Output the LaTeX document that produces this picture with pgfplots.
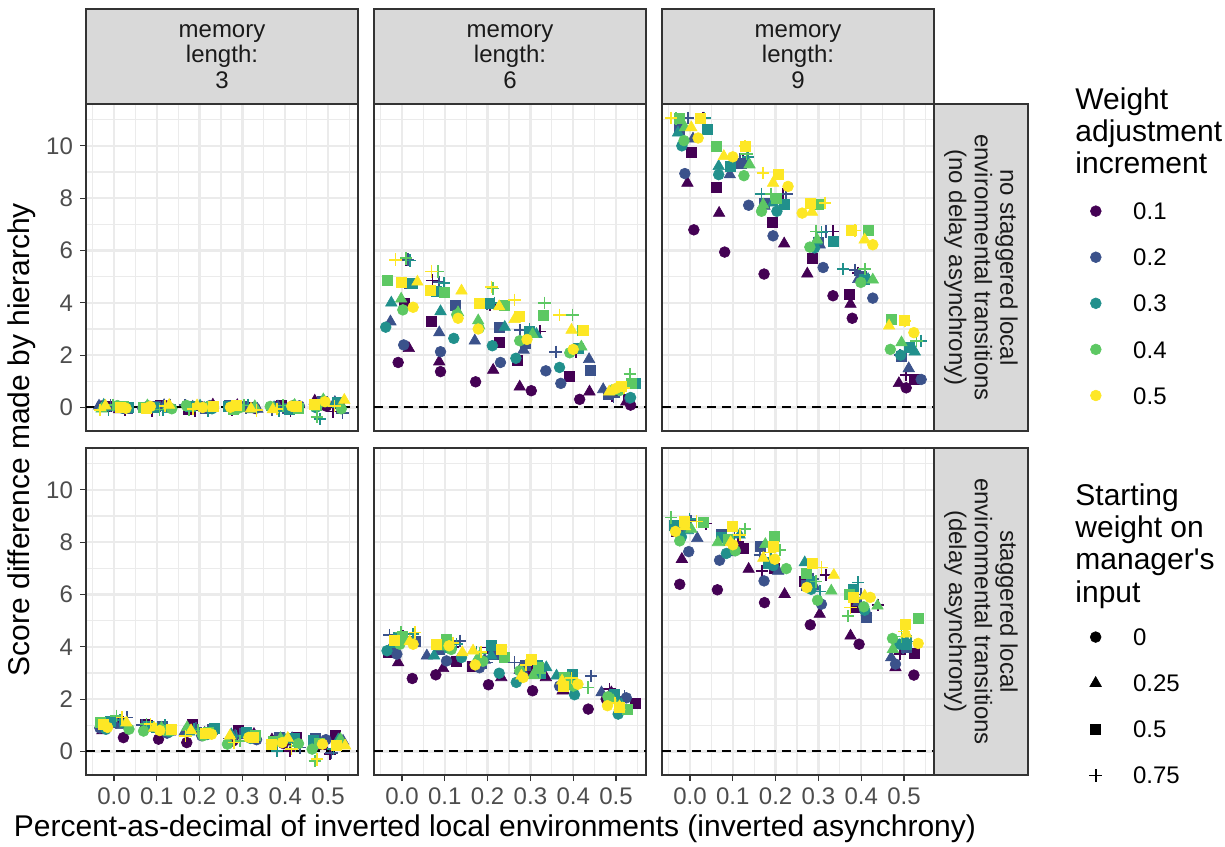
\documentclass[border=0pt]{standalone}
\usepackage{pgfplots}
\pgfplotsset{compat=1.18}
\usepackage{pgfplotstable}
\usepackage{fontspec}
\setmainfont{Liberation Sans}
\definecolor{c1}{HTML}{440154}
\definecolor{c2}{HTML}{3B528B}
\definecolor{c3}{HTML}{21908C}
\definecolor{c4}{HTML}{5DC863}
\definecolor{c5}{HTML}{FDE725}
\definecolor{grey92}{HTML}{EBEBEB}
\definecolor{grey85}{HTML}{D9D9D9}
\definecolor{grey20}{HTML}{333333}
\definecolor{grey30}{HTML}{4D4D4D}
\definecolor{grey10}{HTML}{1A1A1A}

\tikzset{
  mk1/.style={mark=*,mark size=2.7pt,line width=0.3pt},
  mk2/.style={mark=triangle*,mark size=3.3pt,line width=0.3pt},
  mk3/.style={mark=square*,mark size=2.5pt,line width=0.3pt},
  mk4/.style={mark=+,mark size=3.1pt,line width=0.85pt,mark options={line width=0.85pt}},
}
\pgfplotsset{
  pts/.style={scatter, only marks, scatter src=explicit symbolic,
    scatter/classes={
      a1={mk1,draw=c1,fill=c1}, a2={mk2,draw=c1,fill=c1}, a3={mk3,draw=c1,fill=c1}, a4={mk4,draw=c1},
      b1={mk1,draw=c2,fill=c2}, b2={mk2,draw=c2,fill=c2}, b3={mk3,draw=c2,fill=c2}, b4={mk4,draw=c2},
      c1={mk1,draw=c3,fill=c3}, c2={mk2,draw=c3,fill=c3}, c3={mk3,draw=c3,fill=c3}, c4={mk4,draw=c3},
      d1={mk1,draw=c4,fill=c4}, d2={mk2,draw=c4,fill=c4}, d3={mk3,draw=c4,fill=c4}, d4={mk4,draw=c4},
      e1={mk1,draw=c5,fill=c5}, e2={mk2,draw=c5,fill=c5}, e3={mk3,draw=c5,fill=c5}, e4={mk4,draw=c5}}},
  panel/.style={
    scale only axis, width=136pt, height=163.5pt, anchor=north west,
    xmin=-0.0654, xmax=0.570, ymin=-0.9, ymax=11.6,
    xtick={0,0.1,0.2,0.3,0.4,0.5}, ytick={0,2,4,6,8,10},
    minor xtick={-0.05,0.05,0.15,0.25,0.35,0.45,0.55},
    minor ytick={1,3,5,7,9,11},
    grid=both,
    major grid style={grey92, line width=1.2pt},
    minor grid style={grey92, line width=0.6pt},
    axis line style={grey20, line width=0.7pt},
    tick style={grey20, line width=0.55pt},
    major tick length=3pt, minor tick length=0pt,
    tick align=outside, xtick pos=bottom, ytick pos=left,
    tick label style={text=grey30, font=\fontsize{12}{14}\selectfont},
    /pgf/number format/assume math mode=true,
    xticklabel style={/pgf/number format/.cd, fixed, fixed zerofill, precision=1, assume math mode=true},
  },
  notop/.style={xticklabels={}, xtick style={draw=none}},
  noleft/.style={yticklabels={}, ytick style={draw=none}},
  zero/.style={black, line width=1pt, dash pattern=on 4.5pt off 3pt, forget plot},
}

% top-left: memory 3, no staggered
\pgfplotstableread[row sep=\\]{
x y c\\
-0.030 0.05 a1\\ 0.012 -0.08 a2\\ -0.018 0.03 a3\\ 0.025 -0.10 a4\\
0.005 0.02 b1\\ -0.035 0.06 b2\\ 0.030 -0.04 b3\\ -0.008 0.08 b4\\
0.018 -0.02 c1\\ -0.024 0.09 c2\\ 0.034 0.01 c3\\ -0.013 -0.09 c4\\
0.008 0.07 d1\\ -0.029 -0.05 d2\\ 0.021 0.04 d3\\ -0.003 0.10 d4\\
0.028 -0.03 e1\\ -0.020 0.06 e2\\ 0.014 0.00 e3\\ -0.033 -0.10 e4\\
0.122 0.06 a1\\ 0.073 -0.04 a2\\ 0.109 0.09 a3\\ 0.088 -0.12 a4\\
0.067 -0.02 b1\\ 0.117 0.08 b2\\ 0.096 0.03 b3\\ 0.131 0.10 b4\\
0.081 0.05 c1\\ 0.126 -0.07 c2\\ 0.091 0.02 c3\\ 0.114 -0.10 c4\\
0.135 -0.05 d1\\ 0.078 0.07 d2\\ 0.069 0.00 d3\\ 0.106 -0.08 d4\\
0.085 0.04 e1\\ 0.129 0.09 e2\\ 0.075 -0.03 e3\\ 0.119 0.06 e4\\
0.204 0.03 a1\\ 0.231 0.10 a2\\ 0.174 -0.06 a3\\ 0.189 -0.11 a4\\
0.224 0.07 b1\\ 0.184 0.02 b2\\ 0.213 -0.03 b3\\ 0.166 0.09 b4\\
0.229 -0.05 c1\\ 0.201 0.06 c2\\ 0.179 0.04 c3\\ 0.219 -0.12 c4\\
0.169 0.08 d1\\ 0.211 -0.02 d2\\ 0.227 0.05 d3\\ 0.176 -0.09 d4\\
0.207 0.00 e1\\ 0.194 0.07 e2\\ 0.233 0.03 e3\\ 0.185 -0.06 e4\\
0.330 -0.04 a1\\ 0.288 0.08 a2\\ 0.318 0.02 a3\\ 0.275 -0.10 a4\\
0.295 0.05 b1\\ 0.335 -0.06 b2\\ 0.270 0.09 b3\\ 0.308 0.00 b4\\
0.282 0.03 c1\\ 0.324 -0.08 c2\\ 0.266 0.06 c3\\ 0.313 0.10 c4\\
0.292 -0.02 d1\\ 0.329 0.04 d2\\ 0.279 -0.07 d3\\ 0.303 0.08 d4\\
0.272 0.01 e1\\ 0.320 -0.05 e2\\ 0.286 0.07 e3\\ 0.333 -0.11 e4\\
0.378 0.02 a1\\ 0.427 -0.07 a2\\ 0.391 0.10 a3\\ 0.412 -0.12 a4\\
0.433 0.06 b1\\ 0.383 0.03 b2\\ 0.404 -0.04 b3\\ 0.369 -0.10 b4\\
0.419 0.08 c1\\ 0.374 0.00 c2\\ 0.409 -0.06 c3\\ 0.386 -0.13 c4\\
0.365 0.04 d1\\ 0.422 0.09 d2\\ 0.431 -0.02 d3\\ 0.394 0.07 d4\\
0.415 0.05 e1\\ 0.371 -0.08 e2\\ 0.425 0.03 e3\\ 0.381 -0.05 e4\\
0.496 0.05 a1\\ 0.469 0.25 a2\\ 0.526 0.15 a3\\ 0.511 -0.15 a4\\
0.476 0.10 b1\\ 0.516 0.20 b2\\ 0.487 0.22 b3\\ 0.534 -0.20 b4\\
0.471 0.00 c1\\ 0.499 0.15 c2\\ 0.521 0.18 c3\\ 0.481 -0.45 c4\\
0.531 -0.05 d1\\ 0.489 0.30 d2\\ 0.473 0.10 d3\\ 0.474 -0.36 d4\\
0.493 0.22 e1\\ 0.538 0.28 e2\\ 0.467 0.12 e3\\ 0.515 0.05 e4\\
}\PA

% top-middle: memory 6, no staggered
\pgfplotstableread[row sep=\\]{
x y c\\
-0.009 1.72 a1\\ 0.016 2.26 a2\\ 0.006 4.00 a3\\ 0.010 5.65 a4\\
0.004 2.39 b1\\ -0.027 3.28 b2\\ 0.018 4.75 b3\\ 0.014 5.65 b4\\
-0.038 3.07 c1\\ -0.025 4.00 c2\\ 0.024 4.75 c3\\ 0.018 5.62 c4\\
0.002 3.73 d1\\ -0.002 4.15 d2\\ -0.035 4.85 d3\\ 0.010 5.70 d4\\
0.026 3.83 e1\\ 0.036 4.80 e2\\ -0.002 4.80 e3\\ -0.015 5.65 e4\\
0.090 1.37 a1\\ 0.087 1.75 a2\\ 0.069 3.28 a3\\ 0.071 4.85 a4\\
0.090 2.13 b1\\ 0.087 2.86 b2\\ 0.125 3.92 b3\\ 0.087 4.80 b4\\
0.121 2.64 c1\\ 0.090 3.67 c2\\ 0.080 4.45 c3\\ 0.098 4.75 c4\\
0.128 3.55 d1\\ 0.131 3.63 d2\\ 0.098 4.39 d3\\ 0.084 5.20 d4\\
0.131 3.41 e1\\ 0.139 4.46 e2\\ 0.066 4.46 e3\\ 0.069 5.20 e4\\
0.172 0.98 a1\\ 0.213 1.43 a2\\ 0.228 2.49 a3\\ 0.205 3.92 a4\\
0.230 1.72 b1\\ 0.170 2.55 b2\\ 0.228 3.07 b3\\ 0.199 3.95 b4\\
0.211 2.36 c1\\ 0.240 3.07 c2\\ 0.201 3.98 c3\\ 0.216 4.00 c4\\
0.180 3.03 d1\\ 0.178 3.32 d2\\ 0.240 3.92 d3\\ 0.213 4.55 d4\\
0.178 3.00 e1\\ 0.227 3.86 e2\\ 0.181 3.98 e3\\ 0.209 4.60 e4\\
0.302 0.64 a1\\ 0.275 0.79 a2\\ 0.269 1.81 a3\\ 0.322 2.90 a4\\
0.336 1.40 b1\\ 0.284 2.20 b2\\ 0.287 2.45 b3\\ 0.275 2.96 b4\\
0.266 1.88 c1\\ 0.314 2.80 c2\\ 0.298 2.90 c3\\ 0.298 2.98 c4\\
0.275 2.55 d1\\ 0.305 2.80 d2\\ 0.331 3.51 d3\\ 0.333 4.00 d4\\
0.292 2.60 e1\\ 0.263 3.37 e2\\ 0.273 3.47 e3\\ 0.263 4.11 e4\\
0.415 0.31 a1\\ 0.438 0.60 a2\\ 0.390 1.21 a3\\ 0.407 2.13 a4\\
0.371 0.92 b1\\ 0.437 1.84 b2\\ 0.440 1.43 b3\\ 0.359 2.13 b4\\
0.368 1.53 c1\\ 0.411 2.20 c2\\ 0.411 2.25 c3\\ 0.400 2.20 c4\\
0.392 2.09 d1\\ 0.419 2.32 d2\\ 0.421 2.96 d3\\ 0.398 3.54 d4\\
0.400 2.22 e1\\ 0.396 2.96 e2\\ 0.424 2.96 e3\\ 0.368 3.54 e4\\
0.534 0.09 a1\\ 0.524 0.22 a2\\ 0.528 0.30 a3\\ 0.491 0.45 a4\\
0.532 0.35 b1\\ 0.470 0.69 b2\\ 0.481 0.50 b3\\ 0.494 0.41 b4\\
0.534 0.38 c1\\ 0.497 0.60 c2\\ 0.544 0.92 c3\\ 0.509 0.70 c4\\
0.509 0.65 d1\\ 0.489 0.62 d2\\ 0.536 0.92 d3\\ 0.532 1.28 d4\\
0.499 0.72 e1\\ 0.484 0.60 e2\\ 0.512 0.80 e3\\ 0.518 0.75 e4\\
}\PB

% top-right: memory 9, no staggered
\pgfplotstableread[row sep=\\]{
x y c\\
0.009 6.79 a1\\ -0.006 8.58 a2\\ 0.003 9.77 a3\\ 0.030 11.07 a4\\
-0.012 8.94 b1\\ 0.007 10.27 b2\\ -0.024 10.65 b3\\ -0.005 11.07 b4\\
-0.019 10.00 c1\\ -0.028 10.50 c2\\ 0.040 10.65 c3\\ 0.034 11.07 c4\\
-0.014 10.20 d1\\ -0.012 10.70 d2\\ -0.024 11.07 d3\\ -0.032 11.05 d4\\
0.019 10.30 e1\\ 0.003 10.70 e2\\ 0.025 11.07 e3\\ -0.044 11.07 e4\\
0.081 5.94 a1\\ 0.068 7.43 a2\\ 0.061 8.42 a3\\ 0.124 9.45 a4\\
0.137 7.73 b1\\ 0.093 8.90 b2\\ 0.120 9.35 b3\\ 0.116 9.50 b4\\
0.067 8.90 c1\\ 0.067 9.22 c2\\ 0.093 9.20 c3\\ 0.136 9.58 c4\\
0.126 8.86 d1\\ 0.139 9.28 d2\\ 0.061 9.99 d3\\ 0.132 9.70 d4\\
0.100 9.58 e1\\ 0.079 9.60 e2\\ 0.129 9.99 e3\\ 0.129 9.99 e4\\
0.173 5.10 a1\\ 0.220 6.26 a2\\ 0.192 7.09 a3\\ 0.217 8.14 a4\\
0.194 6.56 b1\\ 0.174 7.70 b2\\ 0.173 7.82 b3\\ 0.225 8.17 b4\\
0.203 7.50 c1\\ 0.194 7.82 c2\\ 0.220 7.75 c3\\ 0.167 8.17 c4\\
0.167 7.50 d1\\ 0.171 7.75 d2\\ 0.202 8.00 d3\\ 0.190 8.17 d4\\
0.229 8.45 e1\\ 0.194 8.58 e2\\ 0.207 8.90 e3\\ 0.171 8.97 e4\\
0.334 4.27 a1\\ 0.274 5.11 a2\\ 0.286 5.71 a3\\ 0.334 6.73 a4\\
0.311 5.35 b1\\ 0.303 6.22 b2\\ 0.299 6.30 b3\\ 0.318 6.73 b4\\
0.291 6.10 c1\\ 0.295 6.35 c2\\ 0.334 6.35 c3\\ 0.307 6.70 c4\\
0.280 6.13 d1\\ 0.297 6.41 d2\\ 0.299 7.75 d3\\ 0.295 6.73 d4\\
0.262 7.43 e1\\ 0.285 7.47 e2\\ 0.280 7.82 e3\\ 0.315 7.82 e4\\
0.379 3.41 a1\\ 0.375 3.95 a2\\ 0.371 4.34 a3\\ 0.393 5.15 a4\\
0.427 4.18 b1\\ 0.393 4.90 b2\\ 0.400 5.00 b3\\ 0.385 5.26 b4\\
0.404 4.85 c1\\ 0.416 4.90 c2\\ 0.408 4.88 c3\\ 0.358 5.29 c4\\
0.399 4.78 d1\\ 0.427 4.88 d2\\ 0.416 6.79 d3\\ 0.408 5.29 d4\\
0.427 6.22 e1\\ 0.408 6.41 e2\\ 0.377 6.77 e3\\ 0.386 6.77 e4\\
0.505 0.75 a1\\ 0.488 0.92 a2\\ 0.525 1.07 a3\\ 0.505 1.24 a4\\
0.540 1.07 b1\\ 0.511 1.49 b2\\ 0.494 1.94 b3\\ 0.490 2.00 b4\\
0.492 2.00 c1\\ 0.525 2.13 c2\\ 0.513 2.30 c3\\ 0.540 2.55 c4\\
0.468 2.22 d1\\ 0.494 2.48 d2\\ 0.470 3.37 d3\\ 0.529 2.55 d4\\
0.523 2.86 e1\\ 0.465 3.12 e2\\ 0.500 3.35 e3\\ 0.502 3.30 e4\\
}\PC

% bottom-left: memory 3, staggered
\pgfplotstableread[row sep=\\]{
x y c\\
0.022 0.53 a1\\ -0.027 0.80 a2\\ 0.009 1.15 a3\\ -0.012 1.10 a4\\
-0.033 0.90 b1\\ 0.017 1.00 b2\\ -0.004 1.10 b3\\ 0.031 1.30 b4\\
-0.019 0.85 c1\\ 0.026 1.05 c2\\ -0.009 1.15 c3\\ 0.014 1.20 c4\\
0.035 0.85 d1\\ -0.022 1.00 d2\\ -0.031 1.10 d3\\ 0.006 1.36 d4\\
-0.015 0.92 e1\\ 0.029 1.10 e2\\ -0.025 1.05 e3\\ 0.019 1.30 e4\\
0.104 0.47 a1\\ 0.131 0.75 a2\\ 0.074 1.04 a3\\ 0.089 0.95 a4\\
0.124 0.70 b1\\ 0.084 0.90 b2\\ 0.113 0.95 b3\\ 0.066 1.00 b4\\
0.129 0.75 c1\\ 0.101 0.85 c2\\ 0.079 0.95 c3\\ 0.119 1.00 c4\\
0.069 0.78 d1\\ 0.111 0.90 d2\\ 0.127 0.80 d3\\ 0.076 1.05 d4\\
0.107 0.80 e1\\ 0.094 0.90 e2\\ 0.133 0.85 e3\\ 0.085 1.05 e4\\
0.170 0.34 a1\\ 0.212 0.70 a2\\ 0.182 1.04 a3\\ 0.225 0.80 a4\\
0.205 0.60 b1\\ 0.165 0.75 b2\\ 0.230 0.85 b3\\ 0.192 0.90 b4\\
0.218 0.65 c1\\ 0.176 0.75 c2\\ 0.234 0.90 c3\\ 0.187 0.85 c4\\
0.208 0.60 d1\\ 0.171 0.92 d2\\ 0.221 0.75 d3\\ 0.197 0.80 d4\\
0.228 0.66 e1\\ 0.180 0.80 e2\\ 0.214 0.69 e3\\ 0.167 0.60 e4\\
0.278 0.40 a1\\ 0.327 0.66 a2\\ 0.291 0.82 a3\\ 0.312 0.55 a4\\
0.333 0.45 b1\\ 0.283 0.60 b2\\ 0.304 0.70 b3\\ 0.269 0.50 b4\\
0.319 0.50 c1\\ 0.274 0.65 c2\\ 0.309 0.75 c3\\ 0.286 0.60 c4\\
0.265 0.28 d1\\ 0.322 0.55 d2\\ 0.331 0.60 d3\\ 0.294 0.40 d4\\
0.315 0.54 e1\\ 0.271 0.60 e2\\ 0.325 0.54 e3\\ 0.281 0.34 e4\\
0.396 0.30 a1\\ 0.369 0.45 a2\\ 0.426 0.54 a3\\ 0.411 0.03 a4\\
0.376 0.35 b1\\ 0.416 0.50 b2\\ 0.387 0.55 b3\\ 0.434 0.15 b4\\
0.371 0.30 c1\\ 0.399 0.45 c2\\ 0.421 0.50 c3\\ 0.381 0.03 c4\\
0.431 0.30 d1\\ 0.389 0.50 d2\\ 0.373 0.40 d3\\ 0.424 0.20 d4\\
0.393 0.34 e1\\ 0.406 0.51 e2\\ 0.367 0.28 e3\\ 0.415 0.10 e4\\
0.530 0.35 a1\\ 0.488 0.20 a2\\ 0.518 0.60 a3\\ 0.505 -0.10 a4\\
0.495 0.45 b1\\ 0.535 0.40 b2\\ 0.470 0.50 b3\\ 0.508 -0.05 b4\\
0.482 0.30 c1\\ 0.524 0.45 c2\\ 0.466 0.41 c3\\ 0.513 0.10 c4\\
0.463 0.09 d1\\ 0.529 0.47 d2\\ 0.479 0.30 d3\\ 0.469 -0.36 d4\\
0.487 0.28 e1\\ 0.540 0.22 e2\\ 0.520 0.22 e3\\ 0.474 -0.30 e4\\
}\PD

% bottom-middle: memory 6, staggered
\pgfplotstableread[row sep=\\]{
x y c\\
0.024 2.79 a1\\ -0.009 3.40 a2\\ -0.033 3.78 a3\\ 0.002 4.40 a4\\
-0.012 3.72 b1\\ -0.025 4.00 b2\\ 0.030 4.23 b3\\ -0.029 4.45 b4\\
-0.035 3.85 c1\\ -0.021 4.10 c2\\ -0.009 4.36 c3\\ 0.026 4.50 c4\\
-0.005 4.10 d1\\ 0.006 4.30 d2\\ 0.001 4.40 d3\\ -0.002 4.55 d4\\
0.026 4.10 e1\\ 0.018 4.20 e2\\ -0.019 4.25 e3\\ 0.030 4.55 e4\\
0.079 2.93 a1\\ 0.096 3.18 a2\\ 0.127 3.46 a3\\ 0.119 4.00 a4\\
0.104 3.46 b1\\ 0.058 3.66 b2\\ 0.088 3.90 b3\\ 0.135 4.23 b4\\
0.139 3.59 c1\\ 0.075 3.66 c2\\ 0.111 4.00 c3\\ 0.127 4.10 c4\\
0.115 3.90 d1\\ 0.092 4.00 d2\\ 0.104 4.29 d3\\ 0.107 4.20 d4\\
0.110 4.04 e1\\ 0.141 3.78 e2\\ 0.079 4.10 e3\\ 0.119 4.15 e4\\
0.202 2.55 a1\\ 0.232 2.83 a2\\ 0.164 3.27 a3\\ 0.201 3.97 a4\\
0.181 3.20 b1\\ 0.193 3.50 b2\\ 0.213 3.70 b3\\ 0.197 3.40 b4\\
0.227 2.99 c1\\ 0.209 3.66 c2\\ 0.209 4.04 c3\\ 0.174 3.80 c4\\
0.189 3.45 d1\\ 0.178 3.60 d2\\ 0.240 3.59 d3\\ 0.183 3.75 d4\\
0.171 3.31 e1\\ 0.166 3.85 e2\\ 0.232 3.89 e3\\ 0.185 3.80 e4\\
0.305 2.32 a1\\ 0.336 2.83 a2\\ 0.294 3.10 a3\\ 0.287 3.20 a4\\
0.283 2.90 b1\\ 0.275 3.10 b2\\ 0.287 3.30 b3\\ 0.263 3.40 b4\\
0.267 2.64 c1\\ 0.337 3.21 c2\\ 0.322 3.00 c3\\ 0.314 3.46 c4\\
0.275 3.08 d1\\ 0.306 2.90 d2\\ 0.318 3.20 d3\\ 0.322 3.00 d4\\
0.283 2.83 e1\\ 0.279 2.89 e2\\ 0.302 3.53 e3\\ 0.290 3.30 e4\\
0.435 1.62 a1\\ 0.375 2.32 a2\\ 0.376 2.40 a3\\ 0.392 2.60 a4\\
0.368 2.50 b1\\ 0.380 2.60 b2\\ 0.384 2.75 b3\\ 0.442 2.89 b4\\
0.403 2.17 c1\\ 0.361 2.89 c2\\ 0.398 2.96 c3\\ 0.407 2.70 c4\\
0.400 2.50 d1\\ 0.388 2.80 d2\\ 0.380 2.85 d3\\ 0.435 2.45 d4\\
0.411 2.57 e1\\ 0.374 2.70 e2\\ 0.376 2.51 e3\\ 0.396 2.80 e4\\
0.477 2.00 a1\\ 0.489 2.25 a2\\ 0.544 1.83 a3\\ 0.485 2.38 a4\\
0.524 2.05 b1\\ 0.466 2.25 b2\\ 0.507 1.90 b3\\ 0.520 2.10 b4\\
0.505 1.43 c1\\ 0.512 1.80 c2\\ 0.497 2.19 c3\\ 0.501 1.95 c4\\
0.481 2.09 d1\\ 0.493 1.95 d2\\ 0.526 1.62 d3\\ 0.515 1.70 d4\\
0.480 1.75 e1\\ 0.508 1.72 e2\\ 0.508 1.68 e3\\ 0.497 1.85 e4\\
}\PE

% bottom-right: memory 9, staggered
\pgfplotstableread[row sep=\\]{
x y c\\
-0.024 6.39 a1\\ -0.019 7.35 a2\\ -0.032 8.40 a3\\ 0.038 8.71 a4\\
-0.003 7.64 b1\\ 0.017 8.15 b2\\ -0.028 8.60 b3\\ 0.003 8.80 b4\\
-0.020 8.20 c1\\ -0.005 8.45 c2\\ -0.036 8.66 c3\\ -0.001 8.88 c4\\
-0.024 8.05 d1\\ 0.003 8.50 d2\\ 0.030 8.75 d3\\ -0.044 8.94 d4\\
-0.034 8.41 e1\\ -0.012 8.60 e2\\ -0.014 8.79 e3\\ 0.015 8.79 e4\\
0.064 6.18 a1\\ 0.137 6.97 a2\\ 0.124 7.77 a3\\ 0.112 8.00 a4\\
0.069 7.31 b1\\ 0.093 7.60 b2\\ 0.073 8.30 b3\\ 0.104 8.20 b4\\
0.085 7.57 c1\\ 0.116 8.28 c2\\ 0.073 8.20 c3\\ 0.081 8.10 c4\\
0.106 7.67 d1\\ 0.065 7.99 d2\\ 0.089 8.10 d3\\ 0.128 8.50 d4\\
0.100 7.90 e1\\ 0.095 7.99 e2\\ 0.098 8.60 e3\\ 0.116 8.28 e4\\
0.174 5.69 a1\\ 0.221 6.01 a2\\ 0.198 7.00 a3\\ 0.168 6.90 a4\\
0.173 6.52 b1\\ 0.206 6.90 b2\\ 0.165 7.86 b3\\ 0.163 7.50 b4\\
0.194 7.10 c1\\ 0.186 7.20 c2\\ 0.182 7.20 c3\\ 0.190 7.40 c4\\
0.225 6.99 d1\\ 0.176 7.92 d2\\ 0.196 8.24 d3\\ 0.210 7.70 d4\\
0.198 7.35 e1\\ 0.171 7.39 e2\\ 0.194 7.86 e3\\ 0.186 7.60 e4\\
0.281 4.84 a1\\ 0.303 5.25 a2\\ 0.268 6.50 a3\\ 0.318 6.74 a4\\
0.307 5.63 b1\\ 0.291 6.30 b2\\ 0.272 6.35 b3\\ 0.287 6.60 b4\\
0.283 6.20 c1\\ 0.268 7.22 c2\\ 0.283 6.52 c3\\ 0.303 6.11 c4\\
0.298 5.78 d1\\ 0.330 6.14 d2\\ 0.272 6.80 d3\\ 0.295 6.50 d4\\
0.273 6.27 e1\\ 0.336 6.74 e2\\ 0.285 7.20 e3\\ 0.307 7.03 e4\\
0.395 4.10 a1\\ 0.375 4.42 a2\\ 0.385 5.50 a3\\ 0.439 5.60 a4\\
0.412 5.20 b1\\ 0.393 5.70 b2\\ 0.412 5.12 b3\\ 0.400 6.00 b4\\
0.408 5.40 c1\\ 0.385 5.90 c2\\ 0.381 6.20 c3\\ 0.393 6.46 c4\\
0.406 5.53 d1\\ 0.438 5.57 d2\\ 0.373 6.00 d3\\ 0.369 5.18 d4\\
0.421 5.89 e1\\ 0.408 5.95 e2\\ 0.381 5.89 e3\\ 0.375 5.50 e4\\
0.523 2.92 a1\\ 0.480 3.21 a2\\ 0.525 3.76 a3\\ 0.490 3.72 a4\\
0.480 3.34 b1\\ 0.470 3.59 b2\\ 0.505 4.00 b3\\ 0.498 3.97 b4\\
0.490 4.10 c1\\ 0.503 4.30 c2\\ 0.505 4.10 c3\\ 0.517 4.20 c4\\
0.473 4.32 d1\\ 0.474 3.91 d2\\ 0.534 5.08 d3\\ 0.494 4.40 d4\\
0.533 4.13 e1\\ 0.505 4.50 e2\\ 0.504 4.87 e3\\ 0.500 4.59 e4\\
}\PF

\begin{document}
\begin{tikzpicture}
\useasboundingbox (0,0) rectangle (612.5pt,-423pt);

% panels
\begin{axis}[panel, notop, at={(43pt,-52pt)}]
\addplot[pts] table[x=x,y=y,meta=c] {\PA};
\addplot[zero] coordinates {(-0.0654,0) (0.570,0)};
\end{axis}
\begin{axis}[panel, notop, noleft, at={(187pt,-52pt)}]
\addplot[pts] table[x=x,y=y,meta=c] {\PB};
\addplot[zero] coordinates {(-0.0654,0) (0.570,0)};
\end{axis}
\begin{axis}[panel, notop, noleft, at={(331pt,-52pt)}]
\addplot[pts] table[x=x,y=y,meta=c] {\PC};
\addplot[zero] coordinates {(-0.0654,0) (0.570,0)};
\end{axis}
\begin{axis}[panel, at={(43pt,-224pt)}]
\addplot[pts] table[x=x,y=y,meta=c] {\PD};
\addplot[zero] coordinates {(-0.0654,0) (0.570,0)};
\end{axis}
\begin{axis}[panel, noleft, at={(187pt,-224pt)}]
\addplot[pts] table[x=x,y=y,meta=c] {\PE};
\addplot[zero] coordinates {(-0.0654,0) (0.570,0)};
\end{axis}
\begin{axis}[panel, noleft, at={(331pt,-224pt)}]
\addplot[pts] table[x=x,y=y,meta=c] {\PF};
\addplot[zero] coordinates {(-0.0654,0) (0.570,0)};
\end{axis}

% strips
\foreach \cx/\lab in {43/3, 187/6, 331/9} {
  \draw[grey20, line width=0.7pt, fill=grey85] (\cx pt,-4.5pt) rectangle ++(136pt,-47.5pt);
  \node[text=grey10, align=center, inner sep=0pt, font=\fontsize{12}{12.8}\selectfont] at (\cx pt+68pt,-28.25pt) {memory\\length:\\\lab};
}
\draw[grey20, line width=0.7pt, fill=grey85] (467pt,-52pt) rectangle (514pt,-215.5pt);
\draw[grey20, line width=0.7pt, fill=grey85] (467pt,-224pt) rectangle (514pt,-387.5pt);
\node[rotate=-90, text=grey10, align=center, inner sep=0pt, font=\fontsize{12}{12.8}\selectfont] at (490.5pt,-133.75pt) {no staggered local\\environmental transitions\\(no delay asynchrony)};
\node[rotate=-90, text=grey10, align=center, inner sep=0pt, font=\fontsize{12}{12.8}\selectfont] at (490.5pt,-305.75pt) {staggered local\\environmental transitions\\(delay asynchrony)};

% axis titles
\node[rotate=90, inner sep=0pt, font=\fontsize{15}{18}\selectfont] at (11pt,-219.75pt) {Score difference made by hierarchy};
\node[inner sep=0pt, font=\fontsize{15}{18}\selectfont] at (247.5pt,-414.5pt) {Percent-as-decimal of inverted local environments (inverted asynchrony)};

% legend titles
\node[anchor=north west, inner sep=0pt, align=left, font=\fontsize{15}{16.2}\selectfont] at (537.5pt,-43.5pt) {Weight\\adjustment\\increment};
\node[anchor=north west, inner sep=0pt, align=left, font=\fontsize{15}{16.2}\selectfont] at (537.5pt,-241.5pt) {Starting\\weight on\\manager\textquotesingle s\\input};

% legends
\begin{axis}[at={(0pt,0pt)}, anchor=north west, scale only axis, width=612.5pt, height=423pt,
  xmin=0, xmax=1, ymin=0, ymax=1, hide axis, legend cell align=left,
  legend style={at={(0.8898,0.7611)}, anchor=north west, draw=none, fill=none, inner sep=0pt,
    row sep=14.45pt, nodes={inner sep=0pt, text depth=0pt, text height=8.6pt, font=\fontsize{12}{14}\selectfont},
    /tikz/every odd column/.append style={column sep=16pt}}]
\addlegendimage{only marks, mk1, draw=c1, fill=c1}\addlegendentry{0.1}
\addlegendimage{only marks, mk1, draw=c2, fill=c2}\addlegendentry{0.2}
\addlegendimage{only marks, mk1, draw=c3, fill=c3}\addlegendentry{0.3}
\addlegendimage{only marks, mk1, draw=c4, fill=c4}\addlegendentry{0.4}
\addlegendimage{only marks, mk1, draw=c5, fill=c5}\addlegendentry{0.5}
\end{axis}
\begin{axis}[at={(0pt,0pt)}, anchor=north west, scale only axis, width=612.5pt, height=423pt,
  xmin=0, xmax=1, ymin=0, ymax=1, hide axis, legend cell align=left,
  legend style={at={(0.8890,0.2576)}, anchor=north west, draw=none, fill=none, inner sep=0pt,
    row sep=14.45pt, nodes={inner sep=0pt, text depth=0pt, text height=8.6pt, font=\fontsize{12}{14}\selectfont},
    /tikz/every odd column/.append style={column sep=15.6pt}}]
\addlegendimage{only marks, mk1, draw=black, fill=black}\addlegendentry{0}
\addlegendimage{only marks, mk2, draw=black, fill=black}\addlegendentry{0.25}
\addlegendimage{only marks, mk3, draw=black, fill=black}\addlegendentry{0.5}
\addlegendimage{only marks, mk4, draw=black}\addlegendentry{0.75}
\end{axis}
\end{tikzpicture}
\end{document}
